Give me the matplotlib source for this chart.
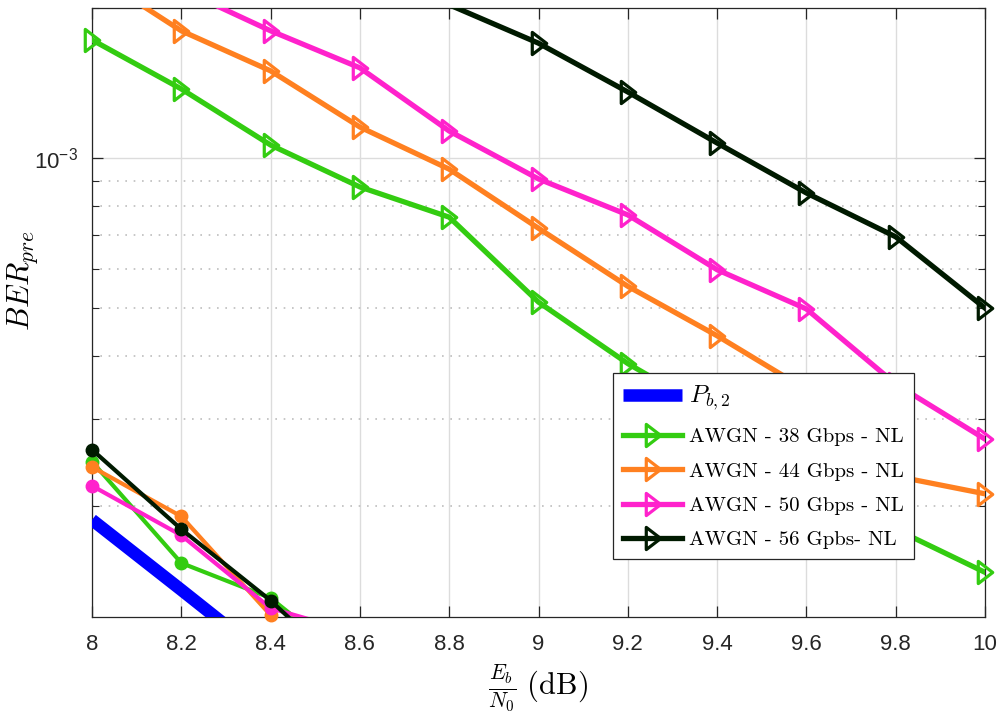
import matplotlib
matplotlib.use("Agg")
import matplotlib.pyplot as plt
import numpy as np
from matplotlib.path import Path
from matplotlib.ticker import LogLocator, NullFormatter, FixedLocator, FixedFormatter

plt.rcParams['mathtext.fontset'] = 'cm'
plt.rcParams['axes.unicode_minus'] = False

# ---- data ----
x = [8.0, 8.2, 8.4, 8.6, 8.8, 9.0, 9.2, 9.4, 9.6, 9.8, 10.0]

ber_38 = [1.726e-3, 1.376e-3, 1.062e-3, 8.75e-4, 7.61e-4, 5.14e-4, 3.87e-4, 3.05e-4, 2.30e-4, 1.80e-4, 1.475e-4]
ber_44 = [2.35e-3, 1.80e-3, 1.496e-3, 1.154e-3, 9.50e-4, 7.23e-4, 5.53e-4, 4.40e-4, 3.43e-4, 2.30e-4, 2.12e-4]
ber_50 = [2.70e-3, 2.18e-3, 1.80e-3, 1.517e-3, 1.133e-3, 9.08e-4, 7.69e-4, 5.97e-4, 4.98e-4, 3.52e-4, 2.73e-4]
ber_56_x = [8.6, 8.8, 9.0, 9.2, 9.4, 9.6, 9.8, 10.0]
ber_56 = [2.50e-3, 2.03e-3, 1.70e-3, 1.357e-3, 1.072e-3, 8.51e-4, 6.95e-4, 5.00e-4]

x_low = [8.0, 8.2, 8.4, 8.6]
low_38 = [2.46e-4, 1.54e-4, 1.31e-4, 9.4e-5]
low_44 = [2.40e-4, 1.91e-4, 1.21e-4, 8.0e-5]
low_50 = [2.20e-4, 1.75e-4, 1.25e-4, 1.11e-4]
low_56 = [2.60e-4, 1.80e-4, 1.295e-4, 8.8e-5]

x_pb = [8.0, 8.2, 8.4]
pb2 = [1.88e-4, 1.36e-4, 9.8e-5]

labels = [r'$P_{b,2}$', 'AWGN - 38 Gbps - NL', 'AWGN - 44 Gbps - NL',
          'AWGN - 50 Gbps - NL', 'AWGN - 56 Gpbs- NL']
colors = ['#0000FF', '#33CC11', '#FF8020', '#FF22CC', '#001A00']

x_ticks = [8, 8.2, 8.4, 8.6, 8.8, 9, 9.2, 9.4, 9.6, 9.8, 10]
x_ticklabels = ['8', '8.2', '8.4', '8.6', '8.8', '9', '9.2', '9.4', '9.6', '9.8', '10']
ylim = (1.2e-4, 2e-3)

# narrow right-pointing triangle (MATLAB-like)
tri = Path([(-0.65, 1.0), (0.65, 0.0), (-0.65, -1.0), (-0.65, 1.0)],
           [Path.MOVETO, Path.LINETO, Path.LINETO, Path.CLOSEPOLY])

# ---- figure ----
fig = plt.figure(figsize=(9.97, 7.19), dpi=100)
ax = fig.add_axes([92/997, 1-617/719, 893/997, 609/719])
ax.set_yscale('log')
ax.set_xlim(8, 10)
ax.set_ylim(*ylim)

ax.plot(x_pb, pb2, color=colors[0], lw=9, solid_capstyle='butt', label=labels[0], zorder=3)

MS = 16
MEW = 2.3
LW = 3.8

def tri_series(xs, ys, c, lab):
    ax.plot(xs, ys, color=c, lw=LW, zorder=4, label='_nolegend_')
    xs_a = np.array(xs); ys_a = np.array(ys)
    m = (ys_a >= ylim[0]) & (ys_a <= ylim[1])
    ax.plot(xs_a[m], ys_a[m], ls='none', marker=tri, ms=MS, mfc='none', mec=c,
            mew=MEW, clip_on=False, zorder=5)
    ax.plot([], [], color=c, lw=LW, marker=tri, ms=MS, mfc='none', mec=c, mew=MEW, label=lab)

tri_series(x, ber_38, colors[1], labels[1])
tri_series(x, ber_44, colors[2], labels[2])
tri_series(x, ber_50, colors[3], labels[3])
tri_series(ber_56_x, ber_56, colors[4], labels[4])

def circ_series(xs, ys, c):
    ax.plot(xs, ys, color=c, lw=3, zorder=6)
    xs_a = np.array(xs); ys_a = np.array(ys)
    m = (ys_a >= ylim[0]) & (ys_a <= ylim[1])
    ax.plot(xs_a[m], ys_a[m], ls='none', marker='o', ms=9, mfc=c, mec=c,
            clip_on=False, zorder=6)

circ_series(x_low, low_38, colors[1])
circ_series(x_low, low_44, colors[2])
circ_series(x_low, low_50, colors[3])
circ_series(x_low, low_56, colors[4])

# ---- axes styling ----
tickfont = ['Liberation Sans', 'DejaVu Sans']
ax.xaxis.set_major_locator(FixedLocator(x_ticks))
ax.xaxis.set_major_formatter(FixedFormatter(x_ticklabels))
ax.yaxis.set_major_locator(FixedLocator([1e-3]))
ax.yaxis.set_major_formatter(FixedFormatter([r'$\mathregular{10^{-3}}$']))
ax.yaxis.set_minor_locator(LogLocator(base=10, subs=np.arange(2, 10)))
ax.yaxis.set_minor_formatter(NullFormatter())
for lab in ax.get_xticklabels() + ax.get_yticklabels():
    lab.set_family(tickfont)
    lab.set_fontsize(16)
    lab.set_color('#262626')

ax.tick_params(which='both', direction='in', top=True, right=True, color='#262626')
ax.tick_params(which='major', length=8, width=0.9)
ax.tick_params(axis='x', which='major', pad=12)
ax.tick_params(axis='y', which='major', pad=10)
ax.tick_params(which='minor', length=5, width=0.8)
for s in ax.spines.values():
    s.set_color('#262626')
    s.set_linewidth(0.9)

ax.grid(True, which='major', color='#dcdcdc', lw=1.0, ls='-', zorder=0)
ax.grid(True, which='minor', axis='y', color='#bdbdbd', lw=1.2, ls=(0, (1, 4)), zorder=0)
ax.set_axisbelow(True)

ax.set_ylabel(r'$BER_{pre}$', fontsize=22)
ax.yaxis.set_label_coords((40-92)/893, (617-281)/609)
ax.set_xlabel(r'$\frac{E_b}{N_0}\ \mathrm{(dB)}$', fontsize=22, labelpad=6)

leg = ax.legend(loc='upper left', bbox_to_anchor=((613-92)/893, (617-373)/609),
                borderaxespad=0, prop={'family': 'cmr10', 'size': 15},
                handlelength=2.8, handletextpad=0.35, labelspacing=0.75,
                fancybox=False, framealpha=1, edgecolor='#262626',
                borderpad=0.5)
leg.get_frame().set_linewidth(0.9)
leg.get_texts()[0].set_fontsize(18)
leg.set_zorder(10)

fig.savefig('out.png', dpi=100)
